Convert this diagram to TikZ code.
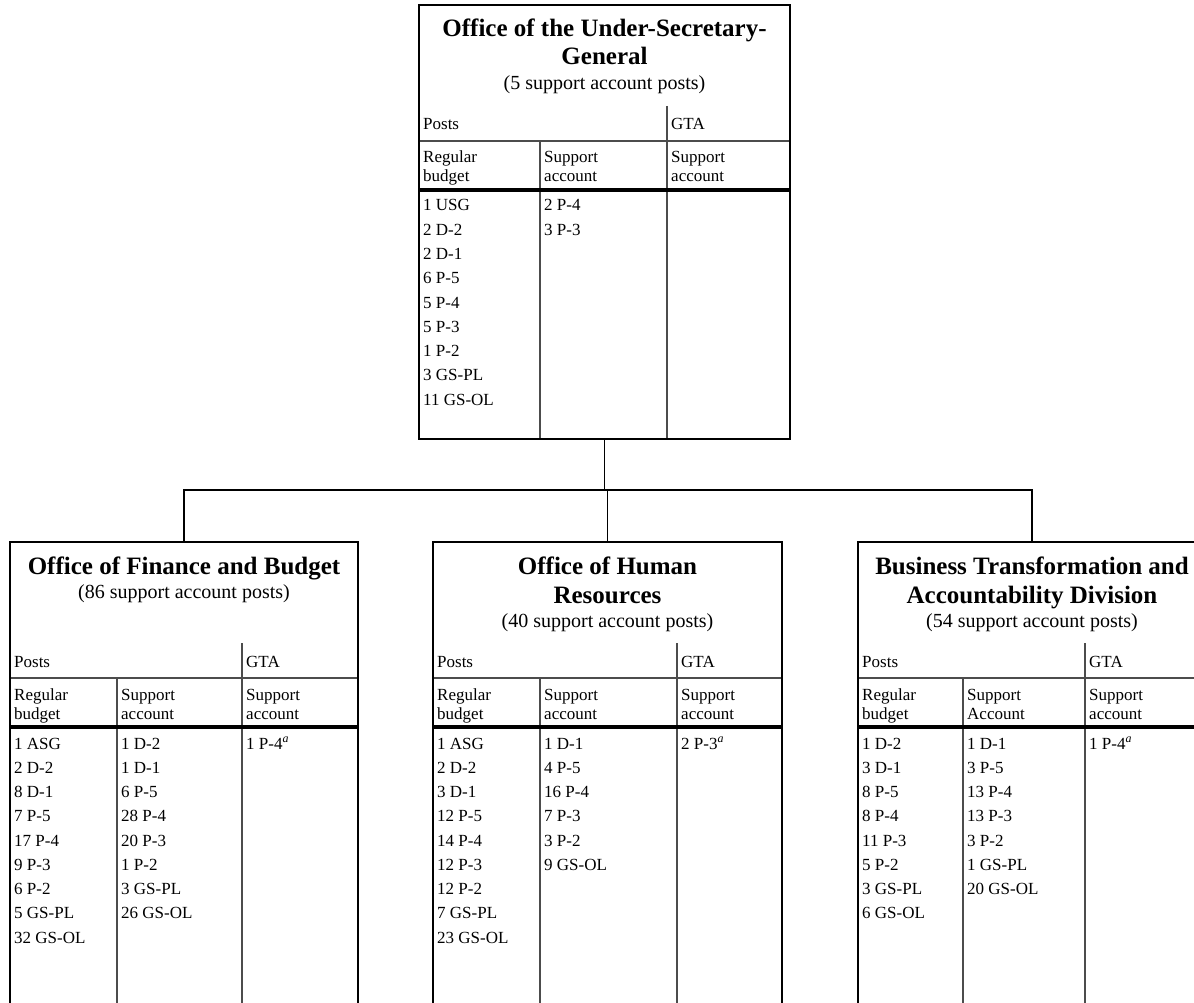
\documentclass[tikz,border=0pt]{standalone}
\usepackage{fontspec}
\setmainfont{Liberation Serif}
\begin{document}
\begin{tikzpicture}[x=1pt,y=-1pt,
  frame/.style={draw=black, line width=2pt, inner sep=0pt, outer sep=0pt, anchor=north west},
  rule/.style={draw=black!70, line width=1.2pt},
  heavyrule/.style={draw=black, line width=3.5pt},
  link/.style={draw=black, line width=1.8pt},
  cell/.style={anchor=base west, inner sep=0pt, font=\fontsize{17}{20}\selectfont},
  title/.style={anchor=base, inner sep=0pt, font=\fontsize{25}{28}\selectfont\bfseries},
  subtitle/.style={anchor=base, inner sep=0pt, font=\fontsize{20}{24}\selectfont},
]
\clip (0,0) rectangle (1194,1003);
\fill[white] (0,0) rectangle (1194,1003);

% table frame: name, left, col1, col2, right, top, bottom, header top
\newcommand\orgframe[8]{%
  \draw[rule] (#4,#8) -- (#4,#7);
  \draw[rule] (#2,#8+35) -- (#5,#8+35);
  \draw[rule] (#3,#8+35) -- (#3,#7);
  \draw[heavyrule] (#2,#8+84) -- (#5,#8+84);
  \node[frame, minimum width=#5pt-#2pt, minimum height=#7pt-#6pt] (#1) at (#2,#6) {};
}
% column headers: prefix, left, col1, col2, header top, middle header second word
\newcommand\orgheads[6]{%
  \node[cell] (#1-posts) at (#2+4,#5+24) {Posts};
  \node[cell] (#1-gta) at (#4+4,#5+24) {GTA};
  \node[cell] (#1-h1a) at (#2+4,#5+57) {Regular};
  \node[cell] (#1-h1b) at (#2+4,#5+76) {budget};
  \node[cell] (#1-h2a) at (#3+4,#5+57) {Support};
  \node[cell] (#1-h2b) at (#3+4,#5+76) {#6};
  \node[cell] (#1-h3a) at (#4+4,#5+57) {Support};
  \node[cell] (#1-h3b) at (#4+4,#5+76) {account};
}
% column entries: prefix, x, first baseline, list
\newcommand\orgcol[4]{%
  \foreach \t [count=\i] in {#4}
    \node[cell] (#1-\i) at (#2+4,#3+24.25*\i-24.25) {\t};
}
\newcommand\supa{\textsuperscript{\itshape a}}

% Office of the Under-Secretary-General
\orgframe{usg}{419}{540}{667}{790}{5}{439}{106}
\node[title] (usg-t1) at (604.5,37) {Office of the Under-Secretary-};
\node[title] (usg-t2) at (604.5,65) {General};
\node[subtitle] (usg-s) at (604.5,90) {(5 support account posts)};
\orgheads{usg}{419}{540}{667}{106}{account}
\orgcol{usg-a}{419}{211}{1 USG, 2 D-2, 2 D-1, 6 P-5, 5 P-4, 5 P-3, 1 P-2, 3 GS-PL, 11 GS-OL}
\orgcol{usg-b}{540}{211}{2 P-4, 3 P-3}

% Office of Finance and Budget
\orgframe{fin}{10}{117}{242}{358}{542}{1030}{643}
\node[title] (fin-t1) at (184,574) {Office of Finance and Budget};
\node[subtitle] (fin-s) at (184,598) {(86 support account posts)};
\orgheads{fin}{10}{117}{242}{643}{account}
\orgcol{fin-a}{10}{749}{1 ASG, 2 D-2, 8 D-1, 7 P-5, 17 P-4, 9 P-3, 6 P-2, 5 GS-PL, 32 GS-OL}
\orgcol{fin-b}{117}{749}{1 D-2, 1 D-1, 6 P-5, 28 P-4, 20 P-3, 1 P-2, 3 GS-PL, 26 GS-OL}
\orgcol{fin-c}{242}{749}{1 P-4\supa}

% Office of Human Resources
\orgframe{hr}{433}{540}{677}{782}{542}{1030}{643}
\node[title] (hr-t1) at (607.5,574) {Office of Human};
\node[title] (hr-t2) at (607.5,603) {Resources};
\node[subtitle] (hr-s) at (607.5,627) {(40 support account posts)};
\orgheads{hr}{433}{540}{677}{643}{account}
\orgcol{hr-a}{433}{749}{1 ASG, 2 D-2, 3 D-1, 12 P-5, 14 P-4, 12 P-3, 12 P-2, 7 GS-PL, 23 GS-OL}
\orgcol{hr-b}{540}{749}{1 D-1, 4 P-5, 16 P-4, 7 P-3, 3 P-2, 9 GS-OL}
\orgcol{hr-c}{677}{749}{2 P-3\supa}

% Business Transformation and Accountability Division
\orgframe{bta}{858}{963}{1085}{1206}{542}{1030}{643}
\node[title] (bta-t1) at (1032,574) {Business Transformation and};
\node[title] (bta-t2) at (1032,603) {Accountability Division};
\node[subtitle] (bta-s) at (1032,627) {(54 support account posts)};
\orgheads{bta}{858}{963}{1085}{643}{Account}
\orgcol{bta-a}{858}{749}{1 D-2, 3 D-1, 8 P-5, 8 P-4, 11 P-3, 5 P-2, 3 GS-PL, 6 GS-OL}
\orgcol{bta-b}{963}{749}{1 D-1, 3 P-5, 13 P-4, 13 P-3, 3 P-2, 1 GS-PL, 20 GS-OL}
\orgcol{bta-c}{1085}{749}{1 P-4\supa}

% reporting lines
\coordinate (bus) at (604.5,490);
\draw[link] (usg.south) -- (usg.south |- bus);
\draw[link] (fin.north) -- (fin.north |- bus) -- (bta.north |- bus) -- (bta.north);
\draw[link] (hr.north) -- (hr.north |- bus);
\end{tikzpicture}
\end{document}
